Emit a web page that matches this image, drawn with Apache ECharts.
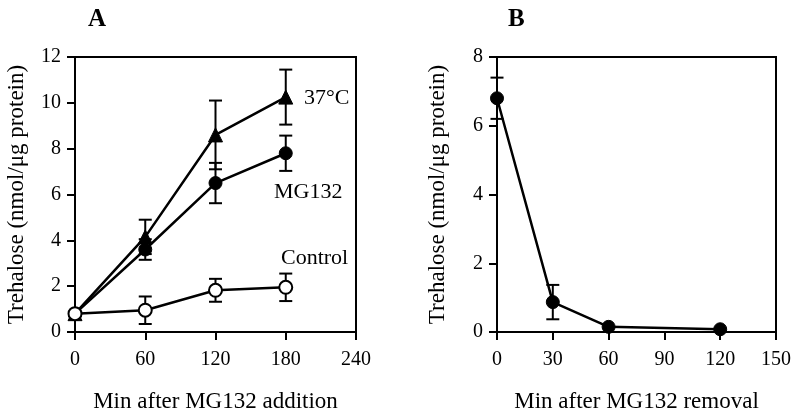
<!DOCTYPE html>
<html><head><meta charset="utf-8">
<script src="https://cdn.jsdelivr.net/npm/echarts@6/dist/echarts.min.js"></script>
<style>html,body{margin:0;padding:0;background:#fff}#c{width:800px;height:418px}</style>
</head><body><div id="c"></div>
<script>
// Panel A data
const xA = [0, 60, 120, 180];
const controlVals = [0.8, 0.95, 1.82, 1.95];
const controlErr = [0, 0.6, 0.5, 0.6];
const mgVals = [0.8, 3.6, 6.5, 7.8];
const mgErr = [0, 0.45, 0.88, 0.77];
const heatVals = [0.8, 4.15, 8.6, 10.25];
const heatErr = [0, 0.75, 1.5, 1.2];
// Panel B data
const xB = [0, 30, 60, 120];
const removalVals = [6.8, 0.87, 0.15, 0.08];
const removalErr = [0.6, 0.5, 0, 0];
// Labels
const seriesNames = ['37°C', 'MG132', 'Control'];
const xNameA = 'Min after MG132 addition';
const xNameB = 'Min after MG132 removal';
const yName = 'Trehalose (nmol/μg protein)';

const FONT = 'Liberation Serif';
const pts = (xs, ys) => xs.map((x, i) => [x, ys[i]]);
const errs = (xs, ys, es) => xs.map((x, i) => [x, ys[i] - es[i], ys[i] + es[i]]).filter((d, i) => es[i] > 0);

function errSeries(idx, data) {
  return {
    type: 'custom', xAxisIndex: idx, yAxisIndex: idx, data: data, z: 1,
    renderItem: function (params, api) {
      const x = api.value(0);
      const lo = api.coord([x, api.value(1)]);
      const hi = api.coord([x, api.value(2)]);
      const w = 6.5;
      const st = { stroke: '#000', lineWidth: 2 };
      return { type: 'group', children: [
        { type: 'line', shape: { x1: lo[0], y1: lo[1], x2: hi[0], y2: hi[1] }, style: st },
        { type: 'line', shape: { x1: lo[0] - w, y1: lo[1], x2: lo[0] + w, y2: lo[1] }, style: st },
        { type: 'line', shape: { x1: hi[0] - w, y1: hi[1], x2: hi[0] + w, y2: hi[1] }, style: st }
      ]};
    }
  };
}

function xAxis(idx, max, interval, name) {
  return {
    type: 'value', gridIndex: idx, min: 0, max: max, interval: interval,
    name: name, nameLocation: 'middle', nameGap: 58,
    nameTextStyle: { fontFamily: FONT, fontSize: 23, color: '#000' },
    axisLine: { lineStyle: { color: '#000', width: 2 } },
    axisTick: { show: true, length: 8, lineStyle: { color: '#000', width: 2 } },
    axisLabel: { fontFamily: FONT, fontSize: 20, color: '#000', margin: 18 },
    splitLine: { show: false }
  };
}
function yAxis(idx, max, gap) {
  return {
    type: 'value', gridIndex: idx, min: 0, max: max, interval: 2,
    name: yName, nameLocation: 'middle', nameGap: gap,
    nameTextStyle: { fontFamily: FONT, fontSize: 23, color: '#000' },
    axisLine: { show: true, lineStyle: { color: '#000', width: 2 } },
    axisTick: { show: true, length: 8, lineStyle: { color: '#000', width: 2 } },
    axisLabel: { fontFamily: FONT, fontSize: 20, color: '#000', margin: 14 },
    splitLine: { show: false }
  };
}

const lineBase = { type: 'line', lineStyle: { color: '#000', width: 2.5 }, animation: false };

const chart = echarts.init(document.getElementById('c'), null, { renderer: 'canvas' });
chart.setOption({
  animation: false,
  title: [
    { text: 'A', left: 83, top: 2, textStyle: { fontFamily: FONT, fontSize: 25, fontWeight: 'bold', color: '#000' } },
    { text: 'B', left: 503, top: 2, textStyle: { fontFamily: FONT, fontSize: 25, fontWeight: 'bold', color: '#000' } }
  ],
  grid: [
    { left: 75, top: 57, width: 281, height: 280, show: true, borderColor: '#000', borderWidth: 2, backgroundColor: 'transparent' },
    { left: 497, top: 57, width: 279, height: 280, show: true, borderColor: '#000', borderWidth: 2, backgroundColor: 'transparent' }
  ],
  xAxis: [xAxis(0, 240, 60, xNameA), xAxis(1, 150, 30, xNameB)],
  yAxis: [yAxis(0, 12, 47), yAxis(1, 8, 48)],
  graphic: [
    { type: 'text', left: 304, top: 87, style: { text: seriesNames[0], font: '22px "Liberation Serif"', fill: '#000' } },
    { type: 'text', left: 274, top: 181, style: { text: seriesNames[1], font: '22px "Liberation Serif"', fill: '#000' } },
    { type: 'text', left: 281, top: 247, style: { text: seriesNames[2], font: '22px "Liberation Serif"', fill: '#000' } }
  ],
  series: [
    errSeries(0, errs(xA, heatVals, heatErr)),
    errSeries(0, errs(xA, mgVals, mgErr)),
    errSeries(0, errs(xA, controlVals, controlErr)),
    errSeries(1, errs(xB, removalVals, removalErr)),
    Object.assign({}, lineBase, { name: seriesNames[1], xAxisIndex: 0, yAxisIndex: 0, z: 2, data: pts(xA, mgVals),
      symbol: 'circle', symbolSize: 13, itemStyle: { color: '#000', borderColor: '#000', borderWidth: 1 } }),
    Object.assign({}, lineBase, { name: seriesNames[0], xAxisIndex: 0, yAxisIndex: 0, z: 3, data: pts(xA, heatVals),
      symbol: 'triangle', symbolSize: 14, itemStyle: { color: '#000', borderColor: '#000', borderWidth: 1 } }),
    Object.assign({}, lineBase, { name: seriesNames[2], xAxisIndex: 0, yAxisIndex: 0, z: 4, data: pts(xA, controlVals),
      symbol: 'circle', symbolSize: 13, itemStyle: { color: '#fff', borderColor: '#000', borderWidth: 2 } }),
    Object.assign({}, lineBase, { name: 'removal', xAxisIndex: 1, yAxisIndex: 1, z: 2, data: pts(xB, removalVals),
      symbol: 'circle', symbolSize: 13, itemStyle: { color: '#000', borderColor: '#000', borderWidth: 1 } })
  ]
});
</script></body></html>
